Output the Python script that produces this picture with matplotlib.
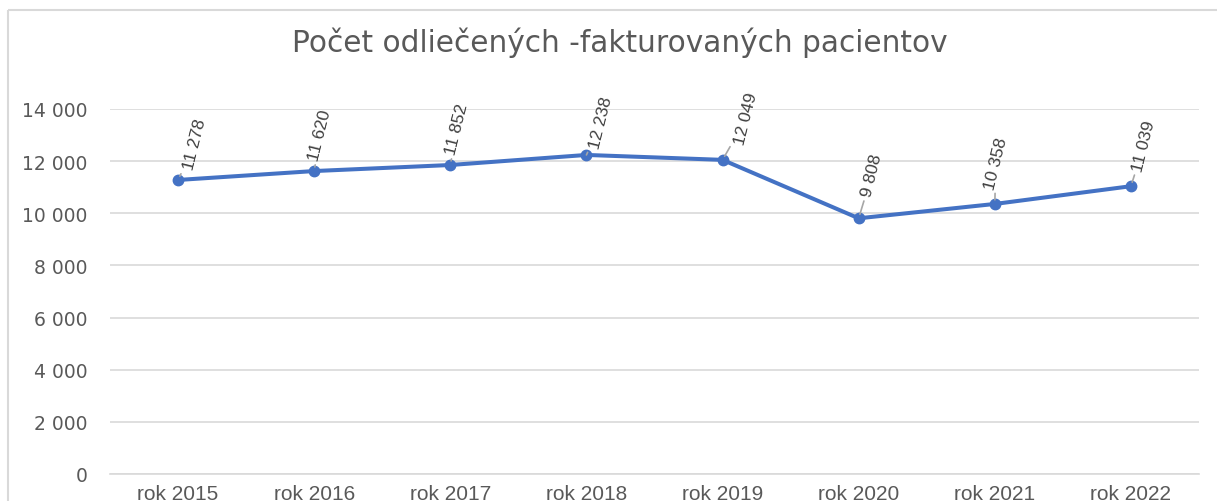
import matplotlib
matplotlib.use("Agg")
import matplotlib.pyplot as plt
from matplotlib.lines import Line2D

# ---- data ----
categories = ["rok 2015", "rok 2016", "rok 2017", "rok 2018",
              "rok 2019", "rok 2020", "rok 2021", "rok 2022"]
values = [11278, 11620, 11852, 12238, 12049, 9808, 10358, 11039]
y_ticks = [0, 2000, 4000, 6000, 8000, 10000, 12000, 14000]
title = "Počet odliečených -fakturovaných pacientov"

# label offsets in pixels (layout only)
label_offsets = [(17, 36), (6, 36), (7, 36), (15, 33),
                 (24, 42), (13, 43), (1, 41), (13, 41)]

DPI = 100
fig = plt.figure(figsize=(12.17, 5.02), dpi=DPI)
W, H = 1217, 502
ax = fig.add_axes([110 / W, 1 - 475 / H, (1199 - 110) / W, (475 - 110) / H])

grid_c = "#d9d9d9"
text_c = "#595959"
line_c = "#4472C4"

x = list(range(len(categories)))
ax.plot(x, values, color=line_c, linewidth=2.9, marker="o", markersize=7.5,
        zorder=3, solid_capstyle="round")

ax.set_xlim(-0.5, len(categories) - 0.5)
ax.set_ylim(0, 14000)
ax.set_yticks(y_ticks)
ax.set_yticklabels([f"{v:,}".replace(",", " ") for v in y_ticks],
                   fontsize=13.5, color=text_c, family="DejaVu Sans")
ax.set_xticks(x)
ax.set_xticklabels(categories, fontsize=15, color=text_c, family="Liberation Sans")
ax.tick_params(axis="y", length=0, pad=16)
ax.tick_params(axis="x", length=0, pad=7)

ax.grid(axis="y", color=grid_c, linewidth=1.2, zorder=0)
ax.set_axisbelow(True)
for s in ["top", "right", "left"]:
    ax.spines[s].set_visible(False)
ax.spines["bottom"].set_color(grid_c)
ax.spines["bottom"].set_linewidth(1.2)

px2pt = 72 / DPI
for xi, v, (dx, dy) in zip(x, values, label_offsets):
    ax.annotate(f"{v:,}".replace(",", " "), xy=(xi, v),
                xytext=(dx * px2pt, dy * px2pt), textcoords="offset points",
                rotation=76, ha="center", va="center", fontsize=12.5,
                family="Liberation Sans", color="#404040",
                arrowprops=dict(arrowstyle="-", color="#a6a6a6", lw=1.2,
                                shrinkA=0, shrinkB=3),
                annotation_clip=False, zorder=4)

fig.text(620 / W, 1 - 43 / H, title, ha="center", va="center",
         fontsize=21.3, color=text_c, family="DejaVu Sans")

# chart frame (left and top edges visible)
fig.add_artist(Line2D([8 / W, 8 / W], [0, 1 - 11 / H], transform=fig.transFigure,
                      color="#d9d9d9", linewidth=1.5, solid_capstyle="butt"))
fig.add_artist(Line2D([8 / W, 1.0], [1 - 11 / H, 1 - 11 / H], transform=fig.transFigure,
                      color="#d9d9d9", linewidth=1.5, solid_capstyle="butt"))

fig.savefig("out.png", dpi=DPI)
